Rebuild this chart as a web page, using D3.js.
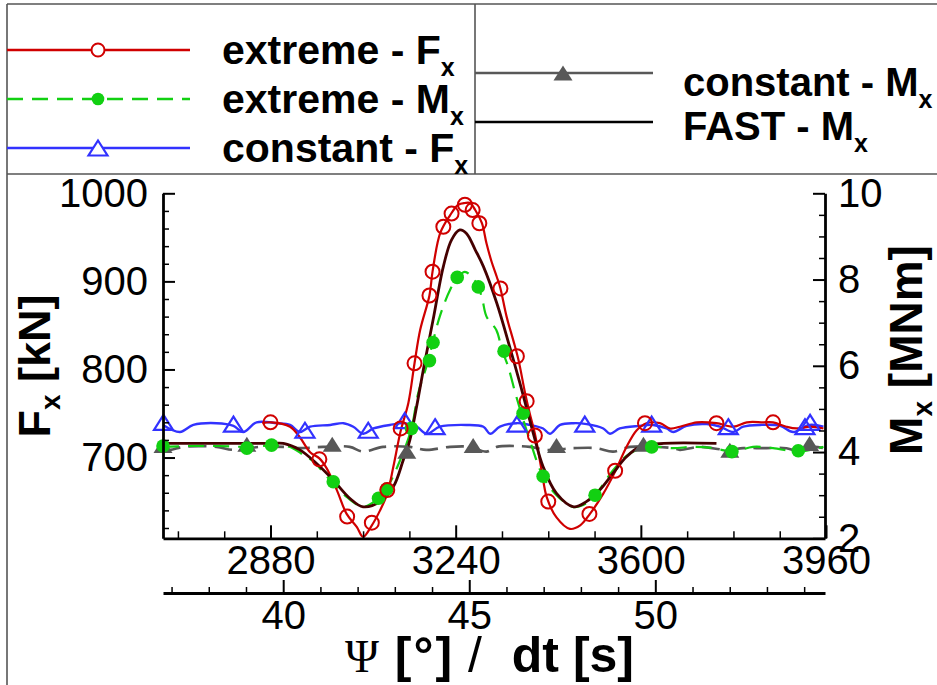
<!DOCTYPE html>
<html><head><meta charset="utf-8">
<script src="https://cdn.jsdelivr.net/npm/d3@7"></script>
<style>
body{margin:0;background:#fff}
svg{display:block}
text{font-family:"Liberation Sans",Arial,Helvetica,sans-serif}
</style>
</head><body>
<svg id="c" width="937" height="685"></svg>
<script>
// ---------- data ----------
const dtTicks = [2880, 3240, 3600, 3960];
const psiTicks = [40, 45, 50];
const fTicks = [700, 800, 900, 1000];
const mTicks = [2, 4, 6, 8, 10];

// extreme - Fx (kN)
const redT = [2864,2881,2918,2937,2957,2975,2989,3009,3028,3048,3060,3077,3093,3107,3119,3133,3148,3160,3171,3189,3195,3210,3229,3245,3258,3268,3278,3291,3300,3310,3320,3327,3339,3352,3362,3375,3384,3394,3407,3417,3436,3462,3482,3501,3527,3550,3572,3592,3611,3637,3657,3676,3709,3747,3780,3806,3838,3857,3883,3903,3929,3955];
const redF = [739,740,735,723,706,699,688,663,636,621,610,623,640,659,690,730,762,807,845,884,911,955,975,987,989,989,981,966,943,922,905,892,860,833,811,773,750,727,686,655,632,619,623,636,659,684,712,731,739,739,733,735,740,739,735,740,740,740,735,733,735,733];
const redMarkT = [2880,2975,3029,3077,3107,3133,3160,3189,3195,3216,3232,3258,3273,3286,3327,3359,3378,3394,3420,3500,3550,3608,3747,3857];
const redMarkF = [740,698,633,626,663,733,807,884,911,962,977,987,981,966,892,815,764,725,650,636,685,739,739,740];

// extreme - Mx (MNm)
const greenT = [2671,2720,2780,2834,2882,2918,2944,2963,2999,3028,3060,3086,3106,3132,3154,3167,3186,3195,3209,3229,3245,3258,3272,3284,3292,3300,3319,3330,3342,3358,3384,3410,3436,3468,3488,3511,3546,3579,3618,3663,3702,3741,3780,3818,3857,3906,3955];
const greenM = [4.12,4.14,4.14,4.12,4.15,4.12,3.93,3.78,3.31,2.96,2.73,2.89,3.16,3.81,4.55,5.36,6.09,6.52,7.14,7.76,8.07,8.18,8.05,7.83,7.53,7.14,6.83,6.37,5.98,5.28,4.28,3.43,3.0,2.73,2.77,3.0,3.58,3.97,4.12,4.09,4.12,4.09,4.01,4.12,4.09,4.01,4.12];
const greenMarkT = [2671,2834,2882,3002,3090,3106,3154,3189,3196,3243,3284,3334,3371,3410,3511,3621,3777,3906];
const greenMarkM = [4.14,4.09,4.16,3.31,2.93,3.14,4.55,6.12,6.54,8.05,7.83,6.34,4.90,3.44,3.0,4.12,4.01,4.03];

// constant - Fx (kN)
const blueT = [2671,2704,2730,2775,2808,2827,2853,2892,2918,2937,2957,2996,3022,3041,3060,3080,3112,3141,3164,3184,3209,3261,3294,3307,3326,3359,3384,3410,3423,3443,3469,3495,3527,3540,3559,3598,3624,3650,3663,3689,3728,3754,3780,3799,3832,3871,3896,3928,3955];
const blueF = [737,729,737,739,736,729,740,739,737,729,735,737,739,735,727,733,737,739,735,727,735,737,735,727,735,739,737,733,727,737,739,738,733,727,733,736,737,733,729,736,738,735,729,735,737,736,729,737,735];
const blueMarkT = [2672,2808,2947,3070,3141,3200,3359,3491,3621,3770,3919,3929];
const blueMarkF = [740,738,731,731,742,735,738,738,738,735,735,740];

// constant - Mx (MNm)
const grayT = [2671,2685,2710,2775,2808,2860,2905,2937,2982,3034,3060,3099,3151,3183,3229,3268,3300,3320,3384,3417,3469,3514,3546,3579,3663,3676,3715,3767,3799,3838,3883,3903,3935,3955];
const grayM = [4.09,4.05,4.12,4.12,4.05,4.12,4.12,4.09,4.12,4.12,4.01,4.12,4.12,4.05,4.12,4.12,4.01,4.12,4.12,4.05,4.09,4.09,4.01,4.12,4.09,4.05,4.12,4.05,4.09,4.09,4.09,4.03,4.12,4.09];
const grayMarkT = [2671,2834,3000,3145,3274,3436,3605,3773,3928];
const grayMarkM = [4.15,4.18,4.18,4.02,4.15,4.15,4.18,4.04,4.2];

// FAST - Mx (MNm)
const blackT = [2671,2880,2905,2937,2969,3002,3034,3060,3093,3119,3138,3151,3164,3177,3196,3216,3232,3248,3261,3278,3294,3320,3345,3365,3391,3410,3436,3469,3494,3520,3546,3572,3598,3644,3747];
const blackM = [4.20,4.20,4.20,4.05,3.74,3.35,2.93,2.73,2.85,3.20,3.81,4.28,5.05,5.90,7.06,8.30,8.92,9.15,9.07,8.69,8.30,7.45,6.44,5.59,4.43,3.66,3.04,2.73,2.85,3.12,3.51,3.89,4.12,4.20,4.20];

// ---------- chart ----------
const svg = d3.select('#c');
const C = {red:'#d00000', green:'#12d012', blue:'#3232ff', gray:'#585858', black:'#450000', frame:'#555'};

const x = d3.scaleLinear().domain([2671, 3958]).range([163, 825]);
const psi = d3.scaleLinear().domain([36.77, 54.56]).range([163, 825]);
const yF = d3.scaleLinear().domain([608.3, 1000]).range([538.3, 193.3]);
const yM = d3.scaleLinear().domain([2, 10]).range([538.3, 193.3]);

// frame lines (legend boxes)
const fr = svg.append('g').attr('stroke', C.frame).attr('stroke-width', 1.6);
fr.append('line').attr('x1', 7).attr('x2', 937).attr('y1', 4).attr('y2', 4);
fr.append('line').attr('x1', 7).attr('x2', 7).attr('y1', 4).attr('y2', 685);
fr.append('line').attr('x1', 7).attr('x2', 937).attr('y1', 174).attr('y2', 174);
fr.append('line').attr('x1', 475).attr('x2', 475).attr('y1', 4).attr('y2', 174);

const zip = (a, b) => a.map((v, i) => [v, b[i]]);
const curve = d3.curveCatmullRom.alpha(0.5);
const lineF = d3.line().x(d => x(d[0])).y(d => yF(d[1])).curve(curve);
const lineM = d3.line().x(d => x(d[0])).y(d => yM(d[1])).curve(curve);

const tri = 'M0,-7.5L9.5,7.5L-9.5,7.5Z';

const plot = svg.append('g');
plot.append('path').attr('d', lineF(zip(blueT, blueF))).attr('fill', 'none').attr('stroke', C.blue).attr('stroke-width', 2.4);
plot.append('path').attr('d', lineM(zip(grayT, grayM))).attr('fill', 'none').attr('stroke', C.gray).attr('stroke-width', 2.6).attr('stroke-dasharray', '18,8');
plot.append('path').attr('d', lineM(zip(greenT, greenM))).attr('fill', 'none').attr('stroke', C.green).attr('stroke-width', 2.2).attr('stroke-dasharray', '16,9');
plot.append('path').attr('d', lineF(zip(redT, redF))).attr('fill', 'none').attr('stroke', C.red).attr('stroke-width', 2.2);
plot.append('path').attr('d', lineM(zip(blackT, blackM))).attr('fill', 'none').attr('stroke', C.black).attr('stroke-width', 2.8);

// markers
plot.selectAll('.bm').data(zip(blueMarkT, blueMarkF)).join('path').attr('class', 'bm')
  .attr('transform', d => `translate(${x(d[0])},${yF(d[1])})`).attr('d', tri)
  .attr('fill', 'none').attr('stroke', C.blue).attr('stroke-width', 2.2);
plot.selectAll('.gm').data(zip(grayMarkT, grayMarkM)).join('path').attr('class', 'gm')
  .attr('transform', d => `translate(${x(d[0])},${yM(d[1])})`).attr('d', tri)
  .attr('fill', C.gray);
plot.selectAll('.em').data(zip(greenMarkT, greenMarkM)).join('circle').attr('class', 'em')
  .attr('cx', d => x(d[0])).attr('cy', d => yM(d[1])).attr('r', 6.8).attr('fill', C.green);
plot.selectAll('.rm').data(zip(redMarkT, redMarkF)).join('circle').attr('class', 'rm')
  .attr('cx', d => x(d[0])).attr('cy', d => yF(d[1])).attr('r', 7)
  .attr('fill', 'none').attr('stroke', C.red).attr('stroke-width', 2);

// ---------- axes ----------
function style(g, fs) {
  g.attr('font-family', '"Liberation Sans",Arial,sans-serif');
  g.select('.domain').attr('stroke', '#000').attr('stroke-width', 2.8);
  g.selectAll('.tick line').attr('stroke', '#000').attr('stroke-width', 2);
  g.selectAll('.tick text').attr('font-size', fs).attr('fill', '#000');
}
function minor(g) {
  g.select('.domain').remove();
  g.selectAll('.tick line').attr('stroke', '#000').attr('stroke-width', 1.5);
}
const range = (a, b, s) => d3.range(a, b + s / 2, s);
const fmt = d3.format('d');

svg.append('g').attr('transform', 'translate(163,0)')
  .call(d3.axisLeft(yF).tickValues(range(620, 980, 20).filter(v => v % 100)).tickSizeInner(-6).tickSizeOuter(0).tickFormat('')).call(minor);
svg.append('g').attr('transform', 'translate(163,0)')
  .call(d3.axisLeft(yF).tickValues(fTicks).tickSizeInner(-12).tickSizeOuter(0).tickPadding(15).tickFormat(fmt)).call(g => style(g, 40));

svg.append('g').attr('transform', 'translate(825,0)')
  .call(d3.axisRight(yM).tickValues(range(2.5, 9.5, 0.5).filter(v => v % 2)).tickSizeInner(-6).tickSizeOuter(0).tickFormat('')).call(minor);
svg.append('g').attr('transform', 'translate(825,0)')
  .call(d3.axisRight(yM).tickValues(mTicks).tickSizeInner(-12).tickSizeOuter(0).tickPadding(13).tickFormat(fmt)).call(g => style(g, 40));

svg.append('g').attr('transform', 'translate(0,538.3)')
  .call(d3.axisBottom(x).tickValues(range(2700, 3870, 90).filter(v => v % 360)).tickSizeInner(-7).tickSizeOuter(0).tickFormat('')).call(minor);
svg.append('g').attr('transform', 'translate(0,538.3)')
  .call(d3.axisBottom(x).tickValues(dtTicks).tickSizeInner(-13).tickSizeOuter(0).tickPadding(7).tickFormat(fmt)).call(g => style(g, 40));

svg.append('g').attr('transform', 'translate(0,593)')
  .call(d3.axisBottom(psi).tickValues(range(37, 54, 1).filter(v => v % 5)).tickSizeInner(-6).tickSizeOuter(0).tickFormat('')).call(minor);
svg.append('g').attr('transform', 'translate(0,593)')
  .call(d3.axisBottom(psi).tickValues(psiTicks).tickSizeInner(-13).tickSizeOuter(0).tickPadding(8).tickFormat(fmt)).call(g => style(g, 40));

// axis titles
const lt = svg.append('text').attr('transform', 'translate(50,366) rotate(-90)')
  .attr('text-anchor', 'middle').attr('font-size', 45).attr('font-weight', 'bold');
lt.append('tspan').text('F');
lt.append('tspan').attr('font-size', 28).attr('dy', 10).text('x');
lt.append('tspan').attr('dy', -10).text(' [kN]');

const rt = svg.append('text').attr('transform', 'translate(922,350) rotate(-90)')
  .attr('text-anchor', 'middle').attr('font-size', 46).attr('font-weight', 'bold');
rt.append('tspan').text('M');
rt.append('tspan').attr('font-size', 28).attr('dy', 10).text('x');
rt.append('tspan').attr('dy', -10).text(' [MNm]');

const bt = svg.append('text').attr('x', 345).attr('y', 672).attr('font-size', 50);
bt.append('tspan').attr('font-family', '"Liberation Serif","Times New Roman",serif').attr('font-size', 46).text('Ψ');
bt.append('tspan').attr('font-weight', 'bold').attr('letter-spacing', 2).text(' [°]');
bt.append('tspan').text(' /');
bt.append('tspan').attr('font-weight', 'bold').attr('dx', 16).text(' dt [s]');

// ---------- legend ----------
const legL = [
  {name: 'extreme - F', color: C.red, dash: null, mark: 'circle', y: 50},
  {name: 'extreme - M', color: C.green, dash: '16,9', mark: 'dot', y: 99},
  {name: 'constant - F', color: C.blue, dash: null, mark: 'tri', y: 148},
];
const legR = [
  {name: 'constant - M', color: C.gray, dash: null, mark: 'ftri', y: 73, ty: 96},
  {name: 'FAST - M', color: '#000', dash: null, mark: null, y: 122, ty: 140},
];
function legItem(d, x0, x1, xm, xt, ty, fs) {
  const g = svg.append('g');
  g.append('line').attr('x1', x0).attr('x2', x1).attr('y1', d.y).attr('y2', d.y)
    .attr('stroke', d.color).attr('stroke-width', 2.4).attr('stroke-dasharray', d.dash);
  if (d.mark === 'circle') g.append('circle').attr('cx', xm).attr('cy', d.y).attr('r', 6.5).attr('fill', '#fff').attr('stroke', d.color).attr('stroke-width', 2);
  if (d.mark === 'dot') g.append('circle').attr('cx', xm).attr('cy', d.y).attr('r', 6.3).attr('fill', d.color);
  if (d.mark === 'tri') g.append('path').attr('transform', `translate(${xm},${d.y})`).attr('d', tri).attr('fill', '#fff').attr('stroke', d.color).attr('stroke-width', 2.2);
  if (d.mark === 'ftri') g.append('path').attr('transform', `translate(${xm},${d.y})`).attr('d', tri).attr('fill', d.color);
  const t = g.append('text').attr('x', xt).attr('y', ty).attr('font-size', fs).attr('font-weight', 'bold');
  t.append('tspan').text(d.name);
  t.append('tspan').attr('font-size', 25).attr('dy', 12).text('x');
}
legL.forEach(d => legItem(d, 7, 190, 98, 222, d.y + 14, 41));
legR.forEach(d => legItem(d, 475, 653, 563, 683, d.ty, 40));
</script>
</body></html>
